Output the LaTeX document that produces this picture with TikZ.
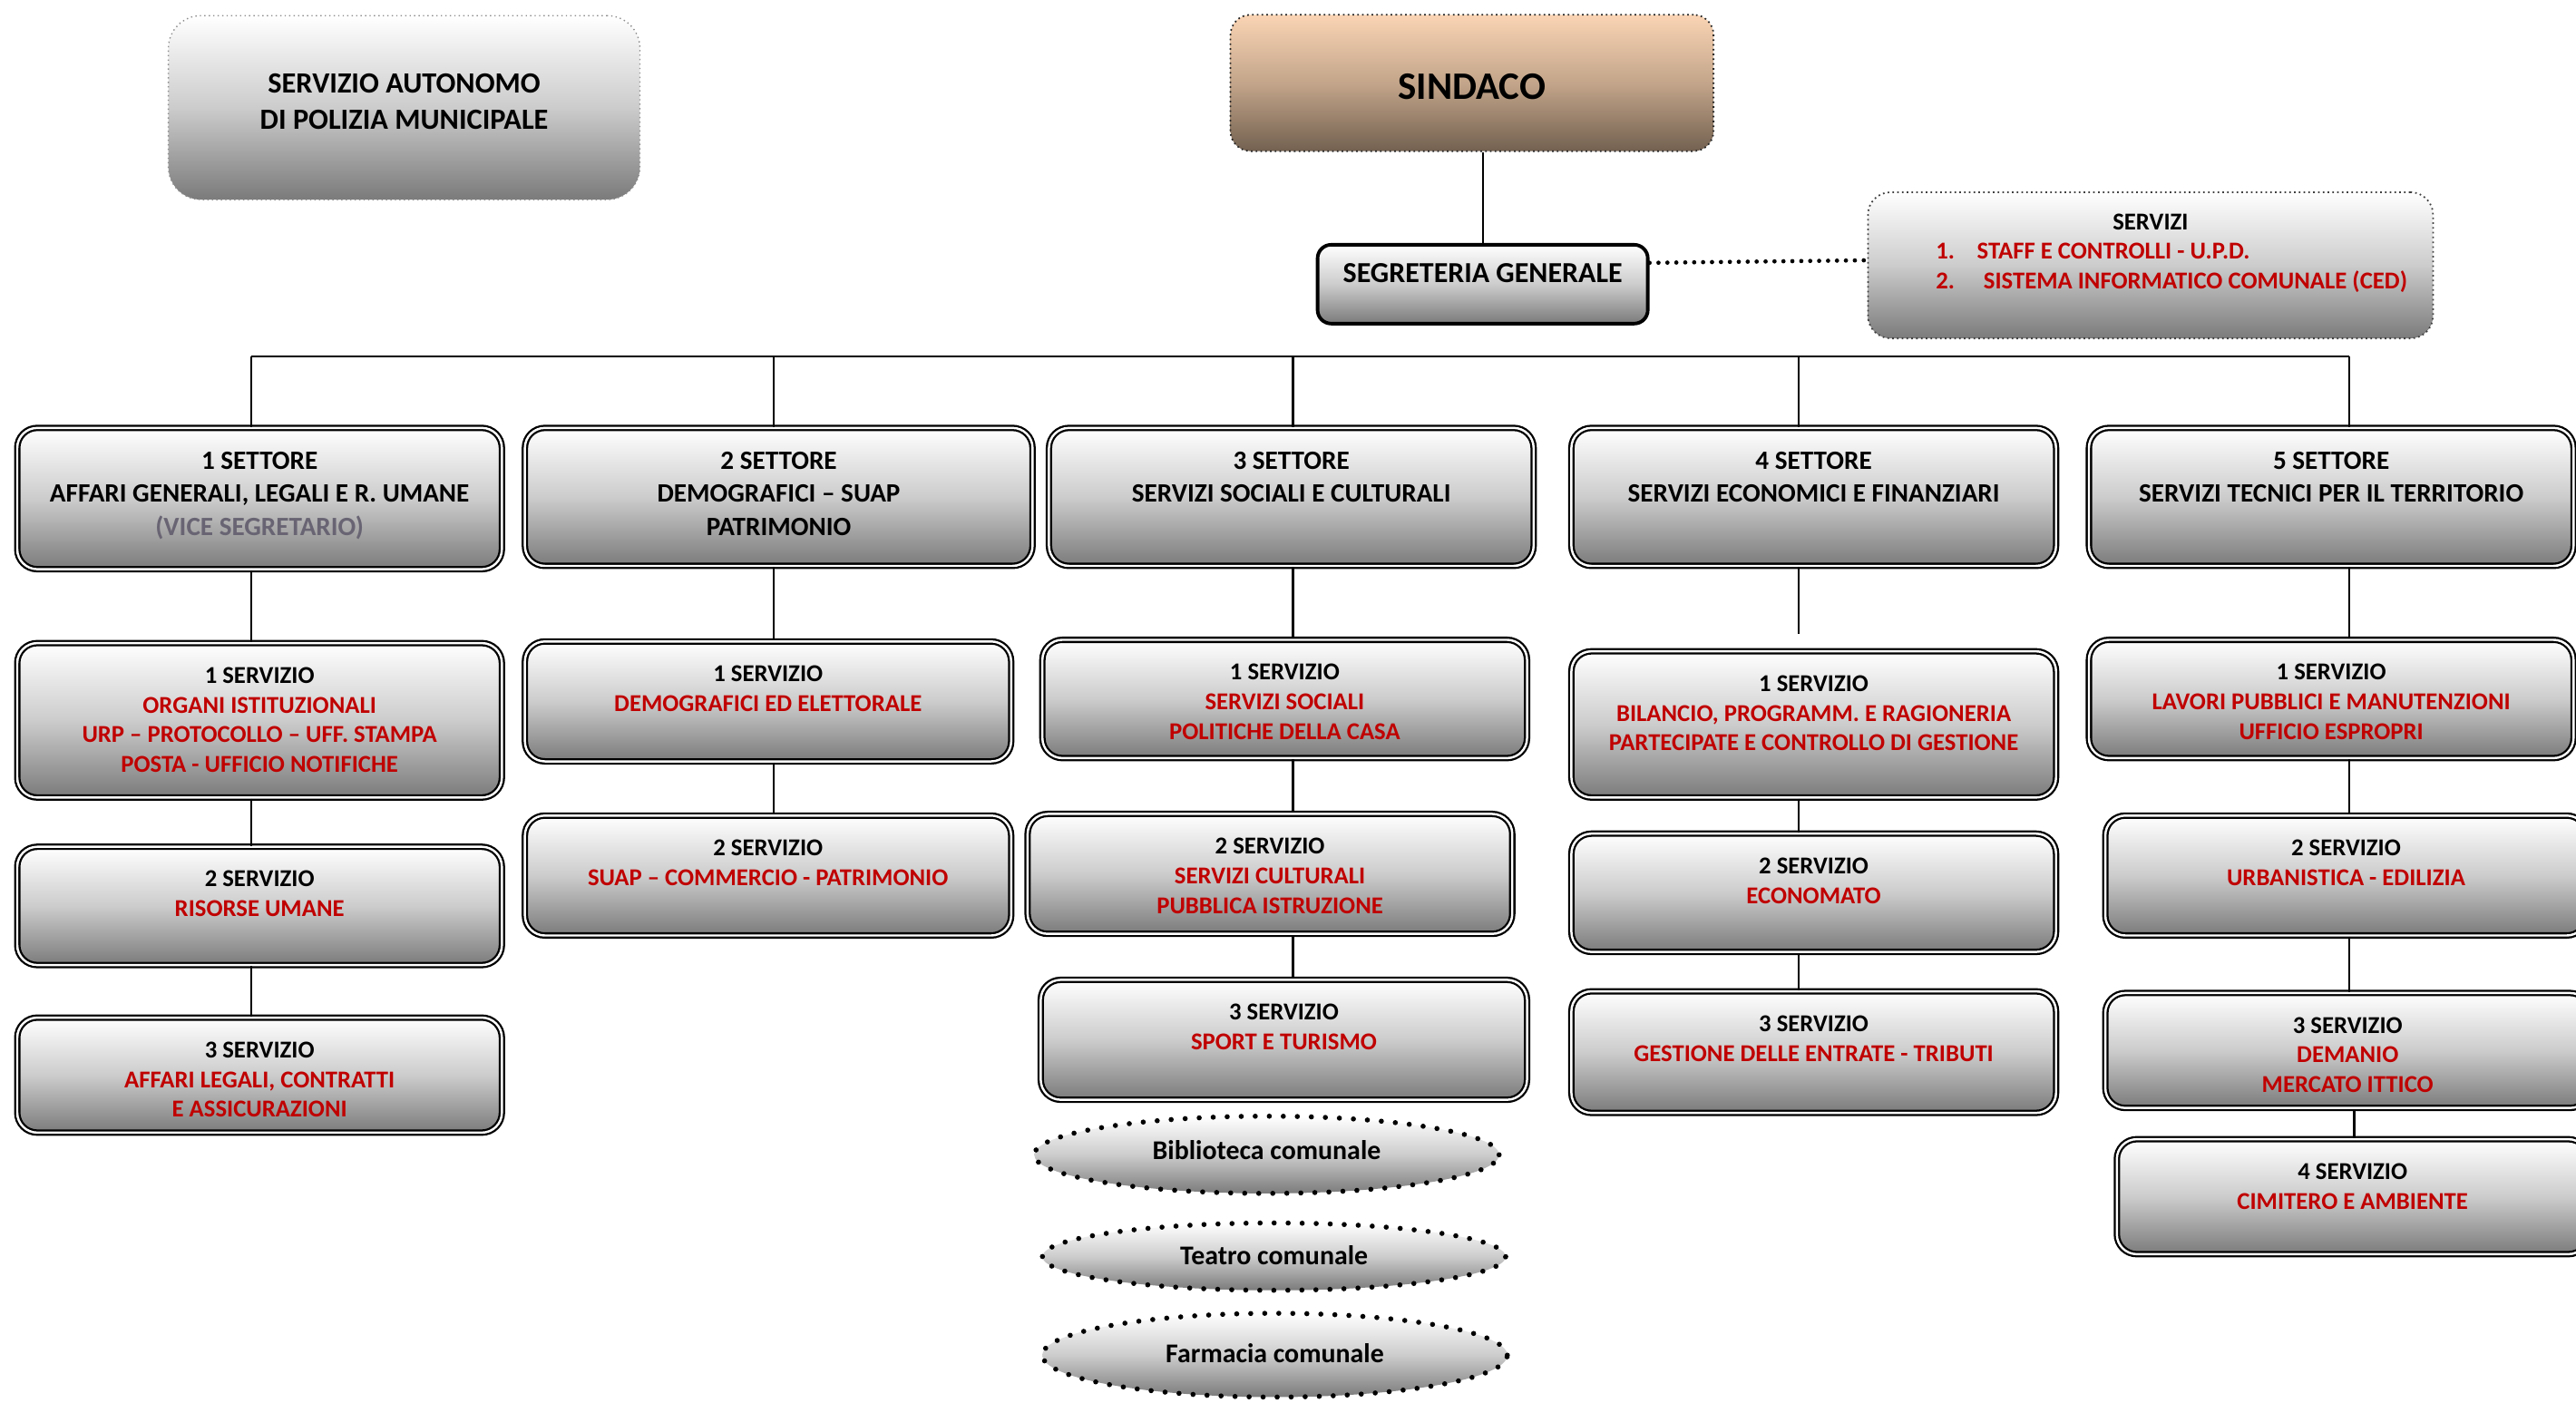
\documentclass[tikz,border=0pt]{standalone}
\usepackage{fontspec}
\setmainfont{Carlito}
\usetikzlibrary{shapes.geometric}
\definecolor{rd}{RGB}{192,0,0}
\definecolor{vg}{RGB}{105,100,115}
\definecolor{peach}{RGB}{250,212,180}
\definecolor{brownb}{RGB}{115,97,80}
\definecolor{brownm}{RGB}{195,165,138}
\newcommand\U{0.18112mm}
\newcommand\R[1]{\textcolor{rd}{#1}}
\tikzset{
  gshade/.style={top color=white, bottom color=black!52, middle color=black!20},
  dbox/.style={gshade, draw=black, double=white, line width=0.65pt, double distance=0.7pt, rounded corners=2.2mm, inner sep=0pt},
  sett/.style={font=\fontsize{8.3}{10.3}\selectfont\bfseries, align=center, inner sep=0pt},
  serv/.style={font=\fontsize{7.6}{9.3}\selectfont\bfseries, align=center, inner sep=0pt},
  poli/.style={gshade, draw=black!45, densely dotted, line width=0.4pt, rounded corners=3.6mm, inner sep=0pt},
  sind/.style={top color=peach, bottom color=brownb, middle color=brownm, draw=black!85, densely dotted, line width=0.5pt, rounded corners=2.2mm, inner sep=0pt},
  segr/.style={gshade, draw=black, line width=1.1pt, rounded corners=1.5mm, inner sep=0pt},
  srvbox/.style={gshade, draw=black!75, densely dotted, line width=0.5pt, rounded corners=2.5mm, inner sep=0pt},
  ell/.style={ellipse, gshade, draw=black, line width=1.6pt, dash pattern=on 0pt off 4.4pt, line cap=round, inner sep=0pt},
  elltxt/.style={font=\fontsize{8.5}{10}\selectfont\bfseries, inner sep=0pt},
  conn/.style={draw=black, line width=0.6pt},
  bus/.style={draw=black, line width=0.7pt},
  dotline/.style={draw=black, line width=1.35pt, dash pattern=on 0pt off 2.8pt, line cap=round},
}
% box style, name, x1, y1, x2, y2, text style, text
\newcommand\ob[8]{%
  \node[#1, minimum width={(#5-#3-3)*\U}, minimum height={(#6-#4-3)*\U}] (#2) at ({(#3+#5)/2},{(#4+#6)/2}) {};
  \node[#7, anchor=north] (#2t) at ([yshift=-15*\U]#2.north) {#8};}
\begin{document}
\begin{tikzpicture}[x=\U, y=-\U]
\useasboundingbox (0,0) rectangle (1568,853.6);

% top
\node[poli, minimum width=287*\U, minimum height=112*\U] (pol) at (246,65.5) {};
\node[font=\fontsize{9.2}{11.3}\selectfont\bfseries, align=center, inner sep=0pt, anchor=north] (polt) at (246,44.5) {SERVIZIO AUTONOMO\\DI POLIZIA MUNICIPALE};

\node[sind, minimum width=294*\U, minimum height=83*\U] (sin) at (896,50.5) {};
\node[font=\fontsize{12.2}{14}\selectfont\bfseries, inner sep=0pt] (sint) at (896,53) {SINDACO};

\node[segr, minimum width=201*\U, minimum height=48*\U] (seg) at (902.5,173) {};
\node[font=\fontsize{9.1}{11}\selectfont\bfseries, inner sep=0pt] (segt) at (902.5,166) {SEGRETERIA GENERALE};

\node[srvbox, minimum width=344*\U, minimum height=89*\U] (srv) at (1309,161.5) {};
\node[serv, anchor=base] (srvt) at (1309,139.8) {SERVIZI};
\node[serv, anchor=base west] (n1) at (1178,157.8) {\R{1.}};
\node[serv, anchor=base west] (l1) at (1203,157.8) {\R{STAFF E CONTROLLI - U.P.D.}};
\node[serv, anchor=base west] (n2) at (1178,175.8) {\R{2.}};
\node[serv, anchor=base west] (l2) at (1207,175.8) {\R{SISTEMA INFORMATICO COMUNALE (CED)}};

% settori
\ob{dbox}{S1}{9}{259}{307}{348}{sett}{1 SETTORE\\AFFARI GENERALI, LEGALI E R. UMANE\\\textcolor{vg}{(VICE SEGRETARIO)}}
\ob{dbox}{S2}{318}{259}{630}{346}{sett}{2 SETTORE\\DEMOGRAFICI – SUAP\\PATRIMONIO}
\ob{dbox}{S3}{637}{259}{935}{346}{sett}{3 SETTORE\\SERVIZI SOCIALI E CULTURALI}
\ob{dbox}{S4}{955}{259}{1253}{346}{sett}{4 SETTORE\\SERVIZI ECONOMICI E FINANZIARI}
\ob{dbox}{S5}{1270}{259}{1568}{346}{sett}{5 SETTORE\\SERVIZI TECNICI PER IL TERRITORIO}

% servizi
\ob{dbox}{A1}{9}{390}{307}{487}{serv}{1 SERVIZIO\\\R{ORGANI ISTITUZIONALI}\\\R{URP – PROTOCOLLO – UFF. STAMPA}\\\R{POSTA - UFFICIO NOTIFICHE}}
\ob{dbox}{A2}{9}{514}{307}{589}{serv}{2 SERVIZIO\\\R{RISORSE UMANE}}
\ob{dbox}{A3}{9}{618}{307}{691}{serv}{3 SERVIZIO\\\R{AFFARI LEGALI, CONTRATTI}\\\R{E ASSICURAZIONI}}
\ob{dbox}{B1}{318}{389}{617}{465}{serv}{1 SERVIZIO\\\R{DEMOGRAFICI ED ELETTORALE}}
\ob{dbox}{B2}{318}{495}{617}{571}{serv}{2 SERVIZIO\\\R{SUAP – COMMERCIO - PATRIMONIO}}
\ob{dbox}{C1}{633}{388}{931}{463}{serv}{1 SERVIZIO\\\R{SERVIZI SOCIALI}\\\R{POLITICHE DELLA CASA}}
\ob{dbox}{C2}{624}{494}{922}{570}{serv}{2 SERVIZIO\\\R{SERVIZI CULTURALI}\\\R{PUBBLICA ISTRUZIONE}}
\ob{dbox}{C3}{632}{595}{931}{671}{serv}{3 SERVIZIO\\\R{SPORT E TURISMO}}
\ob{dbox}{D1}{955}{395}{1253}{487}{serv}{1 SERVIZIO\\\R{BILANCIO, PROGRAMM. E RAGIONERIA}\\\R{PARTECIPATE E CONTROLLO DI GESTIONE}}
\ob{dbox}{D2}{955}{506}{1253}{581}{serv}{2 SERVIZIO\\\R{ECONOMATO}}
\ob{dbox}{D3}{955}{602}{1253}{679}{serv}{3 SERVIZIO\\\R{GESTIONE DELLE ENTRATE - TRIBUTI}}
\ob{dbox}{E1}{1270}{388}{1568}{463}{serv}{1 SERVIZIO\\\R{LAVORI PUBBLICI E MANUTENZIONI}\\\R{UFFICIO ESPROPRI}}
\ob{dbox}{E2}{1280}{495}{1576}{571}{serv}{2 SERVIZIO\\\R{URBANISTICA - EDILIZIA}}
\ob{dbox}{E3}{1280}{603}{1578}{676}{serv}{3 SERVIZIO\\\R{DEMANIO}\\\R{MERCATO ITTICO}}
\ob{dbox}{E4}{1287}{692}{1577}{765}{serv}{4 SERVIZIO\\\R{CIMITERO E AMBIENTE}}

% ellipses
\node[ell, minimum width=283*\U, minimum height=47*\U] (bib) at (771,703) {};
\node[elltxt] (bibt) at (771,700) {Biblioteca comunale};
\node[ell, minimum width=282*\U, minimum height=41*\U] (tea) at (775.5,765) {};
\node[elltxt] (teat) at (775.5,764) {Teatro comunale};
\node[ell, minimum width=283*\U, minimum height=51*\U] (far) at (776,825) {};
\node[elltxt] (fart) at (776,824) {Farmacia comunale};

% connectors
\draw[conn] (seg.north) -- (seg.north |- sin.south);
\coordinate (dl) at (1005,160);
\draw[dotline] (seg.east |- dl) -- ([yshift=0.8pt]srv.west |- dl);

\coordinate (d1) at (153,217);
\coordinate (d2) at (471,217);
\coordinate (d3) at (787,217);
\coordinate (d4) at (1095,217);
\coordinate (d5) at (1430,217);
\draw[bus] (d1) -- (d5);
\foreach \d/\s in {d1/S1,d2/S2,d3/S3,d4/S4,d5/S5}{\draw[conn] (\d) -- (\d |- \s.north);}

\draw[conn] (d1 |- S1.south) -- (d1 |- A1.north);
\draw[conn] (d1 |- A1.south) -- (d1 |- A2.north);
\draw[conn] (d1 |- A2.south) -- (d1 |- A3.north);
\draw[conn] (d2 |- S2.south) -- (d2 |- B1.north);
\draw[conn] (d2 |- B1.south) -- (d2 |- B2.north);
\draw[conn] (d3 |- S3.south) -- (d3 |- C1.north);
\draw[conn] (d3 |- C1.south) -- (d3 |- C2.north);
\draw[conn] (d3 |- C2.south) -- (d3 |- C3.north);
\coordinate (d4e) at (1095,386);
\draw[conn] (d4 |- S4.south) -- (d4e);
\draw[conn] (d4 |- D1.south) -- (d4 |- D2.north);
\draw[conn] (d4 |- D2.south) -- (d4 |- D3.north);
\draw[conn] (d5 |- S5.south) -- (d5 |- E1.north);
\draw[conn] (d5 |- E1.south) -- (d5 |- E2.north);
\draw[conn] (d5 |- E2.south) -- (d5 |- E3.north);
\coordinate (d5b) at (1433,676);
\draw[conn] (d5b |- E3.south) -- (d5b |- E4.north);
\end{tikzpicture}
\end{document}
